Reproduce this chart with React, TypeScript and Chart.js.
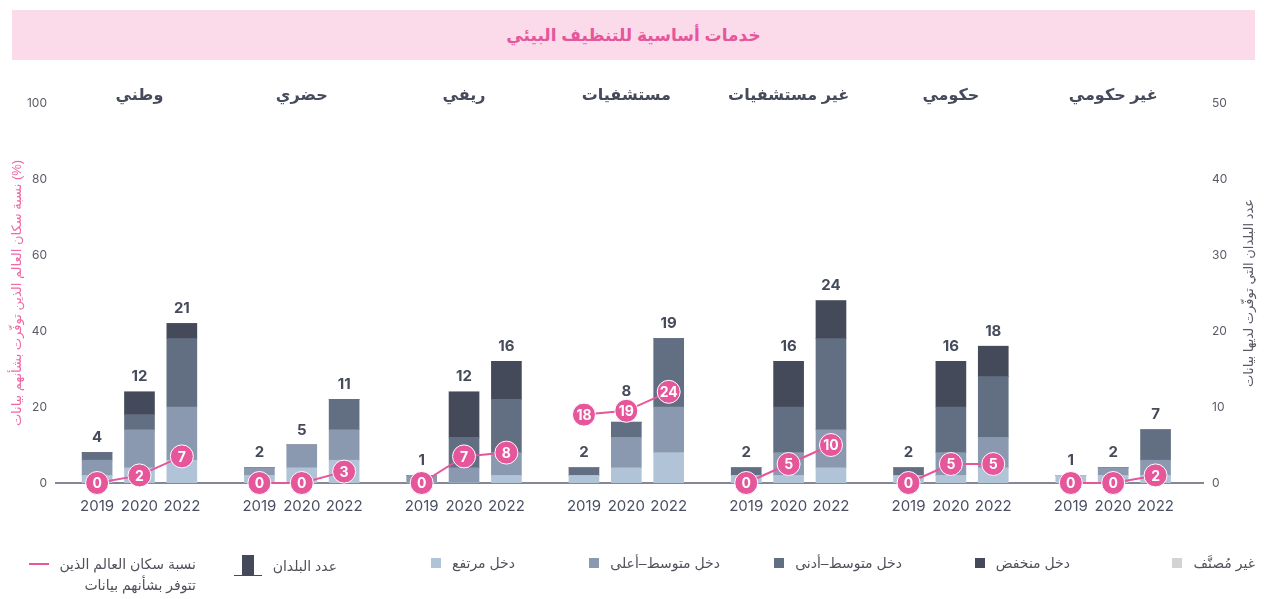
import React, { useEffect, useRef } from 'react';
import { Chart, registerables } from 'chart.js';

Chart.register(...registerables);

// ---------- DATA ----------
const chartTitle = 'خدمات أساسية للتنظيف البيئي';
const groupLabels = ['وطني', 'حضري', 'ريفي', 'مستشفيات', 'غير مستشفيات', 'حكومي', 'غير حكومي'];
const yearLabels = ['2019', '2020', '2022'];

// number of countries by income group (per group: 2019, 2020, 2022)
const highIncome = [1, 2, 3, 1, 2, 3, 0, 0, 1, 1, 2, 4, 1, 1, 2, 1, 1, 2, 1, 1, 1];
const upperMiddleIncome = [2, 5, 7, 1, 3, 4, 1, 2, 3, 0, 4, 6, 0, 3, 5, 0, 3, 4, 0, 1, 2];
const lowerMiddleIncome = [1, 2, 9, 0, 0, 4, 0, 4, 7, 1, 2, 9, 1, 6, 12, 1, 6, 8, 0, 0, 4];
const lowIncome = [0, 3, 2, 0, 0, 0, 0, 6, 5, 0, 0, 0, 0, 6, 5, 0, 6, 4, 0, 0, 0];
const unclassified = [0, 0, 0, 0, 0, 0, 0, 0, 0, 0, 0, 0, 0, 0, 0, 0, 0, 0, 0, 0, 0];

// % of world population covered by data
const coveragePct = [0, 2, 7, 0, 0, 3, 0, 7, 8, 18, 19, 24, 0, 5, 10, 0, 5, 5, 0, 0, 2];

const pctTicks = [0, 20, 40, 60, 80, 100];
const countTicks = [0, 10, 20, 30, 40, 50];

const leftAxisTitle = 'نسبة سكان العالم الذين توفّرت بشأنهم بيانات (%)';
const rightAxisTitle = 'عدد البلدان التي توفّرت لديها بيانات';

const legendLabels = {
  coverage: ['نسبة سكان العالم الذين', 'تتوفر بشأنهم بيانات'],
  count: 'عدد البلدان',
  high: 'دخل مرتفع',
  upperMiddle: 'دخل متوسط–أعلى',
  lowerMiddle: 'دخل متوسط–أدنى',
  low: 'دخل منخفض',
  unclassified: 'غير مُصنَّف',
};

// ---------- STYLE ----------
const C_HIGH = '#b0c3d7';
const C_UPPER = '#8a99b0';
const C_LOWER = '#626e81';
const C_LOW = '#444a5a';
const C_UNCL = '#d3d3d3';
const C_PINK = '#e6569b';
const C_TEXT = '#464b5c';
const C_TICK = '#5a5a66';
const ARABIC_FONT = '"Liberation Sans", "DejaVu Sans", Arial, sans-serif';
const NUM_FONT = 'Inter, "DejaVu Sans", sans-serif';
const POINT_R = 11.5;

const GROUP_PITCH = 3.83;
const xPos = (g: number, yi: number) => g * GROUP_PITCH + yi;

const barX: number[] = [];
for (let g = 0; g < groupLabels.length; g++) for (let yi = 0; yi < yearLabels.length; yi++) barX.push(xPos(g, yi));
const totals = barX.map((_, i) => highIncome[i] + upperMiddleIncome[i] + lowerMiddleIncome[i] + lowIncome[i] + unclassified[i]);

const toPts = (arr: number[]) => arr.map((v, i) => ({ x: barX[i], y: v }));

// coverage line: one segment per group, broken by null gaps
const linePts: { x: number; y: number | null }[] = [];
for (let g = 0; g < groupLabels.length; g++) {
  for (let yi = 0; yi < yearLabels.length; yi++) linePts.push({ x: xPos(g, yi), y: coveragePct[g * 3 + yi] });
  linePts.push({ x: xPos(g, 2) + 0.9, y: null });
}

const overlayPlugin = {
  id: 'overlay',
  afterDatasetsDraw(chart: any) {
    const ctx = chart.ctx;
    const xs = chart.scales.x;
    const yc = chart.scales.y;
    const yp = chart.scales.yPct;
    const area = chart.chartArea;
    ctx.save();
    ctx.textAlign = 'center';
    ctx.textBaseline = 'middle';
    // group headers
    ctx.fillStyle = C_TEXT;
    ctx.font = `bold 16px ${ARABIC_FONT}`;
    groupLabels.forEach((lab, g) => {
      ctx.fillText(lab, xs.getPixelForValue(xPos(g, 1)), 96);
    });
    // totals above bars (lifted above the coverage marker when they would collide)
    ctx.font = `bold 15px ${NUM_FONT}`;
    totals.forEach((t, i) => {
      let ly = yc.getPixelForValue(t) - 15;
      const cyPt = yp.getPixelForValue(coveragePct[i]);
      if (cyPt - POINT_R < ly + 8 && cyPt + POINT_R > ly - 8) ly = cyPt - 19;
      ctx.fillText(String(t), xs.getPixelForValue(barX[i]), ly);
    });
    // point labels
    const lineIdx = chart.data.datasets.findIndex((d: any) => d.type === 'line');
    const meta = chart.getDatasetMeta(lineIdx);
    ctx.fillStyle = '#ffffff';
    ctx.font = `bold 14px ${NUM_FONT}`;
    meta.data.forEach((el: any, i: number) => {
      const raw = linePts[i];
      if (raw.y === null) return;
      ctx.fillText(String(raw.y), el.x, el.y + 1);
    });
    // axis titles
    const cy = (area.top + area.bottom) / 2;
    ctx.font = `13px ${ARABIC_FONT}`;
    ctx.fillStyle = '#ee6aa7';
    ctx.save();
    ctx.translate(17, cy);
    ctx.rotate(-Math.PI / 2);
    ctx.fillText(leftAxisTitle, 0, 0);
    ctx.restore();
    ctx.fillStyle = '#5a5a66';
    ctx.save();
    ctx.translate(1249, cy);
    ctx.rotate(-Math.PI / 2);
    ctx.fillText(rightAxisTitle, 0, 0);
    ctx.restore();
    ctx.restore();
  },
};

function LegendSwatch({ color }: { color: string }) {
  return <span style={{ display: 'inline-block', width: 10, height: 10, background: color, flex: 'none' }} />;
}

export default function App() {
  const ref = useRef<HTMLCanvasElement>(null);

  useEffect(() => {
    if (!ref.current) return;
    const barCommon = { type: 'bar' as const, yAxisID: 'y', barThickness: 30, order: 1, stack: 's' };
    const chart = new Chart(ref.current, {
      type: 'bar',
      data: {
        datasets: [
          { ...barCommon, label: legendLabels.high, data: toPts(highIncome), backgroundColor: C_HIGH },
          { ...barCommon, label: legendLabels.upperMiddle, data: toPts(upperMiddleIncome), backgroundColor: C_UPPER },
          { ...barCommon, label: legendLabels.lowerMiddle, data: toPts(lowerMiddleIncome), backgroundColor: C_LOWER },
          { ...barCommon, label: legendLabels.low, data: toPts(lowIncome), backgroundColor: C_LOW },
          { ...barCommon, label: legendLabels.unclassified, data: toPts(unclassified), backgroundColor: C_UNCL },
          {
            type: 'line',
            label: legendLabels.coverage.join(' '),
            data: linePts as any,
            yAxisID: 'yPct',
            order: 0,
            clip: false,
            borderColor: C_PINK,
            borderWidth: 2,
            backgroundColor: C_PINK,
            pointBackgroundColor: C_PINK,
            pointBorderColor: '#ffffff',
            pointBorderWidth: 1,
            pointRadius: POINT_R,
            spanGaps: false,
          } as any,
        ],
      },
      options: {
        responsive: false,
        animation: false,
        devicePixelRatio: 1,
        layout: { padding: { top: 103, bottom: 76, left: 0, right: 0 } },
        plugins: { legend: { display: false }, tooltip: { enabled: false } },
        scales: {
          x: {
            type: 'linear',
            min: -0.97,
            max: 26.1,
            offset: false,
            stacked: true,
            grid: { display: false, drawTicks: false, offset: false },
            border: { display: true, color: '#868696', width: 2 },
            afterBuildTicks: (s: any) => {
              s.ticks = barX.map((v) => ({ value: v }));
            },
            afterFit: (s: any) => {
              s.height = 40;
            },
            ticks: {
              autoSkip: false,
              maxRotation: 0,
              padding: 14,
              color: '#4a4f62',
              font: { family: NUM_FONT, size: 15 },
              callback: (_v: any, i: number) => yearLabels[i % 3],
            },
          },
          yPct: {
            type: 'linear',
            position: 'left',
            min: 0,
            max: 100,
            grid: { display: false, drawTicks: false },
            border: { display: false },
            afterBuildTicks: (s: any) => {
              s.ticks = pctTicks.map((v) => ({ value: v }));
            },
            afterFit: (s: any) => {
              s.width = 56;
            },
            ticks: { padding: 9, color: C_TICK, font: { family: NUM_FONT, size: 12 } },
          },
          y: {
            type: 'linear',
            position: 'right',
            stacked: true,
            min: 0,
            max: 50,
            grid: { display: false, drawTicks: false },
            border: { display: false },
            afterBuildTicks: (s: any) => {
              s.ticks = countTicks.map((v) => ({ value: v }));
            },
            afterFit: (s: any) => {
              s.width = 61;
            },
            ticks: { padding: 9, color: C_TICK, font: { family: NUM_FONT, size: 12 } },
          },
        },
      } as any,
      plugins: [overlayPlugin],
    });
    return () => chart.destroy();
  }, []);

  const legendText: React.CSSProperties = {
    fontFamily: ARABIC_FONT,
    fontSize: 14,
    color: '#50505a',
    whiteSpace: 'nowrap',
  };
  const item = (right: number, content: React.ReactNode) => (
    <div
      style={{
        position: 'absolute',
        right,
        top: 555,
        display: 'flex',
        flexDirection: 'row-reverse',
        alignItems: 'center',
        gap: 11,
        direction: 'ltr',
      }}
    >
      {content}
    </div>
  );

  return (
    <div style={{ position: 'fixed', left: 0, top: 0, width: 1264, height: 599, background: '#fff', overflow: 'hidden' }}>
      <div
        style={{
          position: 'absolute',
          left: 12,
          top: 10,
          width: 1243,
          height: 50,
          background: '#fbdbea',
          display: 'flex',
          alignItems: 'center',
          justifyContent: 'center',
          fontFamily: ARABIC_FONT,
          fontWeight: 'bold',
          fontSize: 17,
          color: C_PINK,
          direction: 'rtl',
        }}
      >
        {chartTitle}
      </div>
      <canvas ref={ref} width={1264} height={599} style={{ position: 'absolute', left: 0, top: 0, width: 1264, height: 599 }} />
      {item(1264 - 1255, <><span style={{ ...legendText, direction: 'rtl' }}>{legendLabels.unclassified}</span><LegendSwatch color={C_UNCL} /></>)}
      {item(1264 - 1070, <><span style={{ ...legendText, direction: 'rtl' }}>{legendLabels.low}</span><LegendSwatch color={C_LOW} /></>)}
      {item(1264 - 902, <><span style={{ ...legendText, direction: 'rtl' }}>{legendLabels.lowerMiddle}</span><LegendSwatch color={C_LOWER} /></>)}
      {item(1264 - 720, <><span style={{ ...legendText, direction: 'rtl' }}>{legendLabels.upperMiddle}</span><LegendSwatch color={C_UPPER} /></>)}
      {item(1264 - 515, <><span style={{ ...legendText, direction: 'rtl' }}>{legendLabels.high}</span><LegendSwatch color={C_HIGH} /></>)}
      {item(
        1264 - 337,
        <>
          <span style={{ ...legendText, direction: 'rtl' }}>{legendLabels.count}</span>
          <span style={{ position: 'relative', display: 'inline-block', width: 28, height: 21, flex: 'none', marginLeft: 6 }}>
            <span style={{ position: 'absolute', left: 8, top: 0, width: 12, height: 20, background: C_LOW }} />
            <span style={{ position: 'absolute', left: 0, top: 20, width: 28, height: 1, background: C_LOW }} />
          </span>
        </>
      )}
      <div style={{ position: 'absolute', right: 1264 - 196, top: 554, display: 'flex', flexDirection: 'row-reverse', alignItems: 'flex-start', gap: 10 }}>
        <div style={{ ...legendText, direction: 'rtl', lineHeight: '21px', textAlign: 'right' }}>
          {legendLabels.coverage[0]}
          <br />
          {legendLabels.coverage[1]}
        </div>
        <span style={{ display: 'inline-block', width: 20, height: 2, background: C_PINK, marginTop: 9, flex: 'none' }} />
      </div>
    </div>
  );
}
